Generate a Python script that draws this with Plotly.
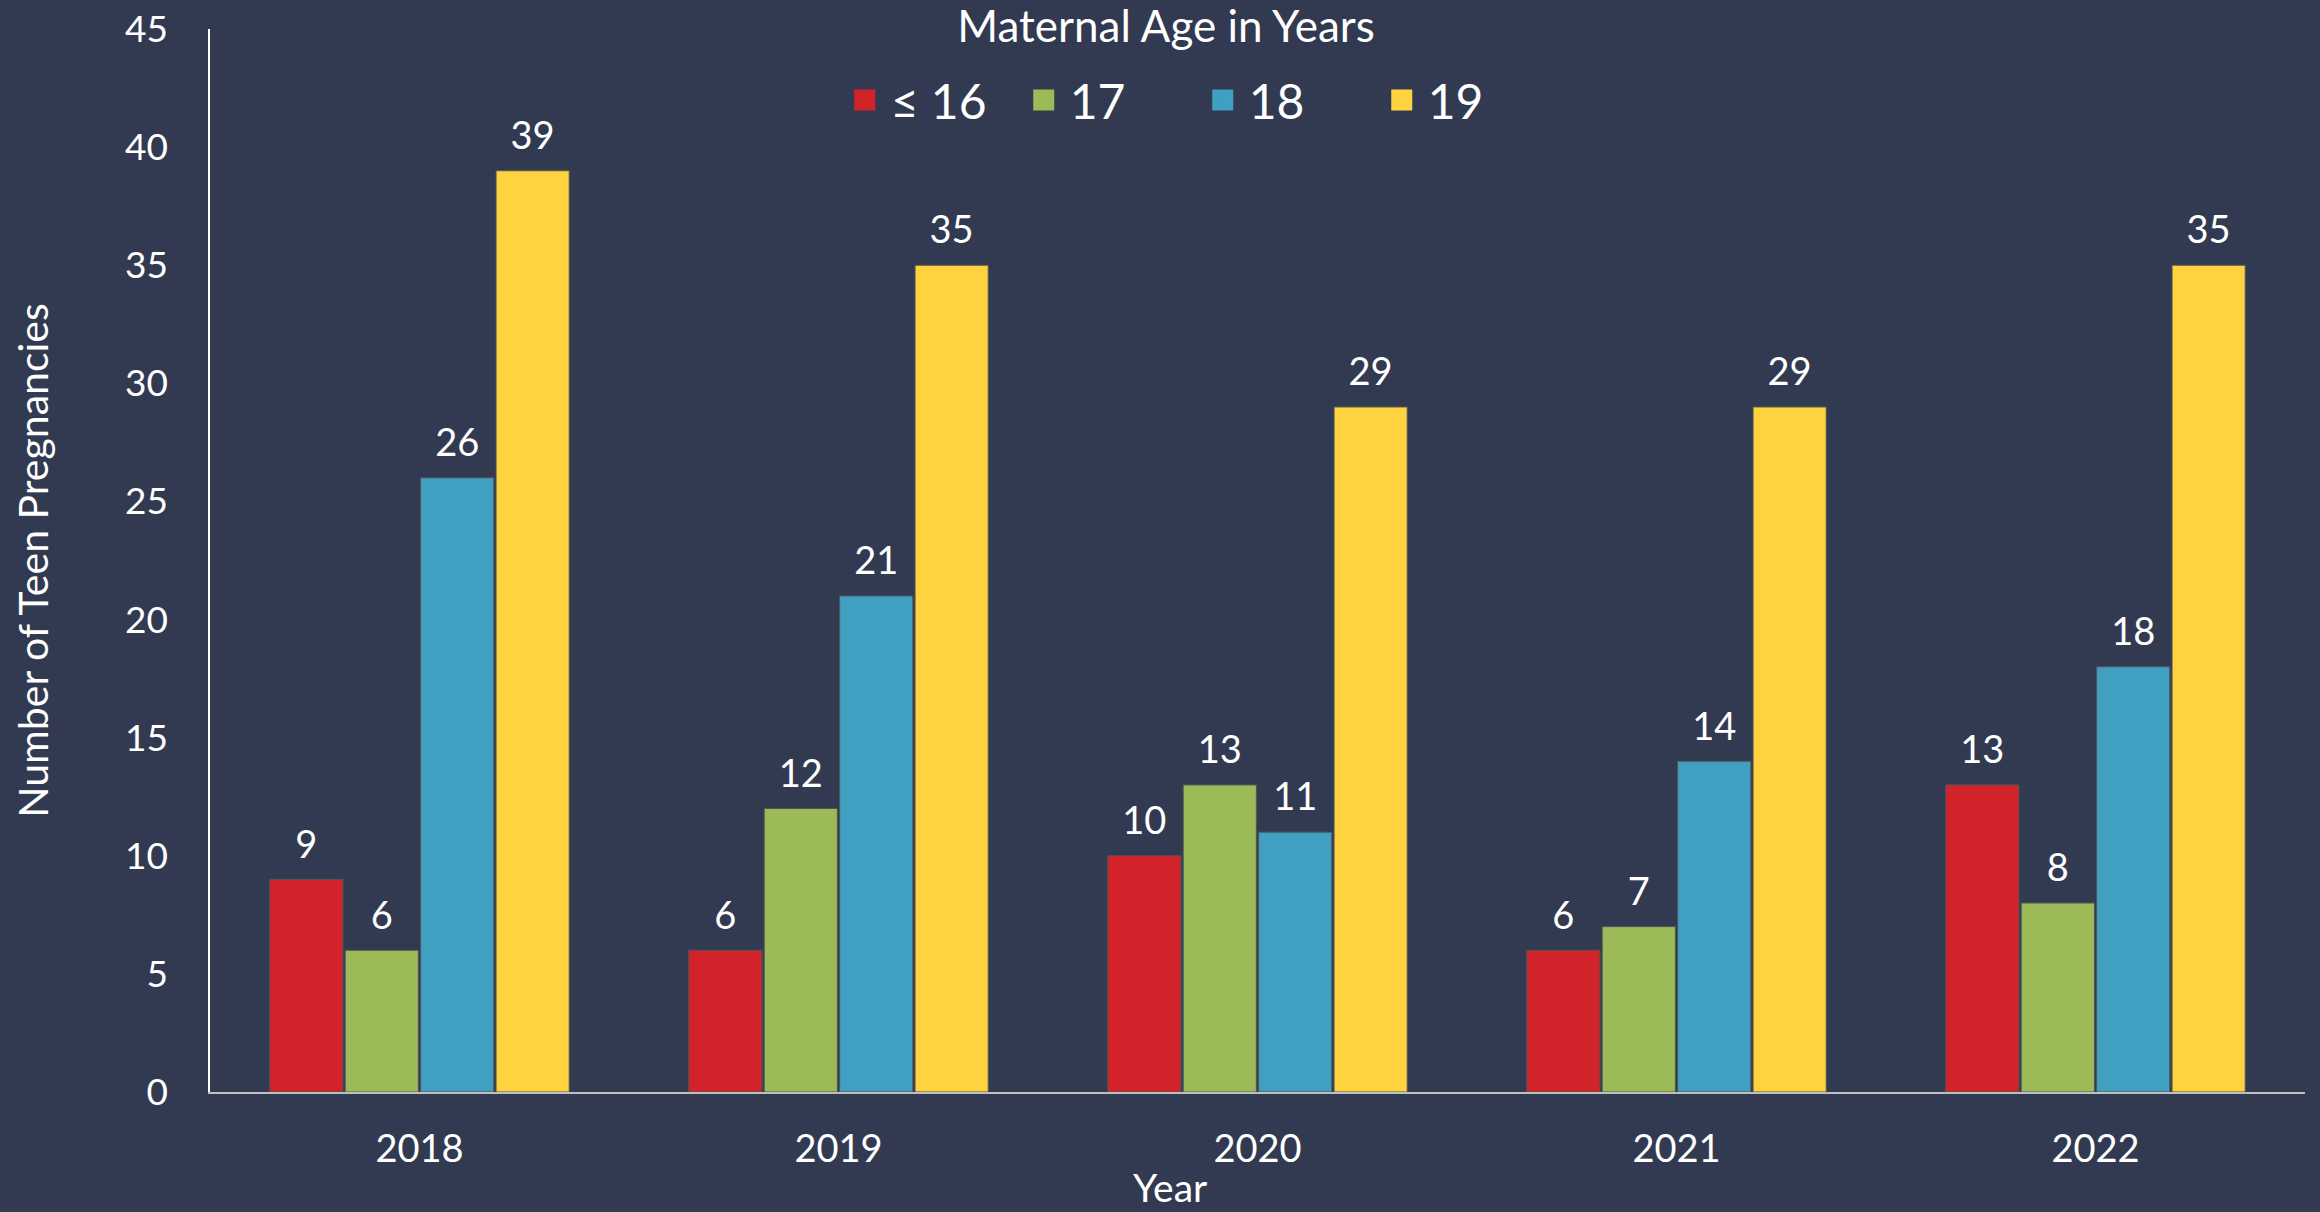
import plotly.graph_objects as go

years = ["2018", "2019", "2020", "2021", "2022"]
series_names = ["≤ 16", "17", "18", "19"]
age_le16 = [9, 6, 10, 6, 13]
age_17 = [6, 12, 13, 7, 8]
age_18 = [26, 21, 11, 14, 18]
age_19 = [39, 35, 29, 29, 35]
colors = ["#D2232A", "#9BBB59", "#40A0C2", "#FFD23F"]
y_ticks = [0, 5, 10, 15, 20, 25, 30, 35, 40, 45]

BG = "#323A52"
FONT = "Lato"
series_values = [age_le16, age_17, age_18, age_19]

fig = go.Figure()
for i, (name, vals, col) in enumerate(zip(series_names, series_values, colors)):
    fig.add_trace(go.Bar(
        x=years, y=vals, name=name, offsetgroup=str(i),
        marker=dict(color=col, line=dict(color="#555555", width=1)),
        showlegend=False, hoverinfo="x+y+name",
    ))
# value labels, aligned with bars through grouped scatter
for i, (name, vals) in enumerate(zip(series_names, series_values)):
    fig.add_trace(go.Scatter(
        x=years, y=vals, name=name, offsetgroup=str(i),
        mode="markers+text", text=[str(v) for v in vals],
        textposition="top center",
        textfont=dict(color="white", size=38, family=FONT),
        marker=dict(size=18, opacity=0, color=BG),
        cliponaxis=False, showlegend=False, hoverinfo="skip",
    ))
# legend entries (larger square symbols)
for name, col in zip(series_names, colors):
    fig.add_trace(go.Scatter(
        x=[None], y=[None], mode="markers", name=name,
        marker=dict(symbol="square", size=16, color=col,
                    line=dict(color=col, width=5)),
        showlegend=True,
    ))

fig.update_layout(
    width=2320, height=1212,
    paper_bgcolor=BG, plot_bgcolor=BG,
    margin=dict(l=210, r=15, t=29, b=120),
    barmode="group", bargap=0.28, bargroupgap=0.03,
    scattermode="group", scattergap=0.28,
    font=dict(family=FONT, color="white", size=36),
    title=dict(text="Maternal Age in Years", x=0.5026, xref="container",
               xanchor="center", y=1 - 27 / 1212, yref="container",
               yanchor="middle",
               font=dict(size=44, color="white", family=FONT)),
    legend=dict(
        orientation="h", x=0.471, xanchor="center", y=0.933, yanchor="middle",
        bgcolor="rgba(0,0,0,0)",
        font=dict(size=48, color="white", family=FONT),
        itemwidth=42,
        entrywidth=122, entrywidthmode="pixels",
    ),
    xaxis=dict(
        showline=True, linecolor="#BFBFBF", linewidth=2, automargin=False,
        showgrid=False, ticks="", tickfont=dict(size=38, color="white"),
        ticklabelstandoff=22,
    ),
    yaxis=dict(
        range=[0, 45], tickvals=y_ticks, showline=True, linecolor="white",
        linewidth=1.5, showgrid=False, zeroline=False, ticks="",
        automargin=False,
        tickfont=dict(size=37, color="white"), ticklabelstandoff=33,
        title=dict(text="Number of Teen Pregnancies", standoff=64,
                   font=dict(size=41, color="white")),
    ),
    annotations=[dict(
        text="Year", xref="paper", yref="paper", x=0.458, y=-0.089,
        xanchor="center", yanchor="middle", showarrow=False,
        font=dict(size=39, color="white", family=FONT),
    )],
)

fig.write_html("out.html", config={"displayModeBar": False},
               post_script="document.body.style.margin='0';")
